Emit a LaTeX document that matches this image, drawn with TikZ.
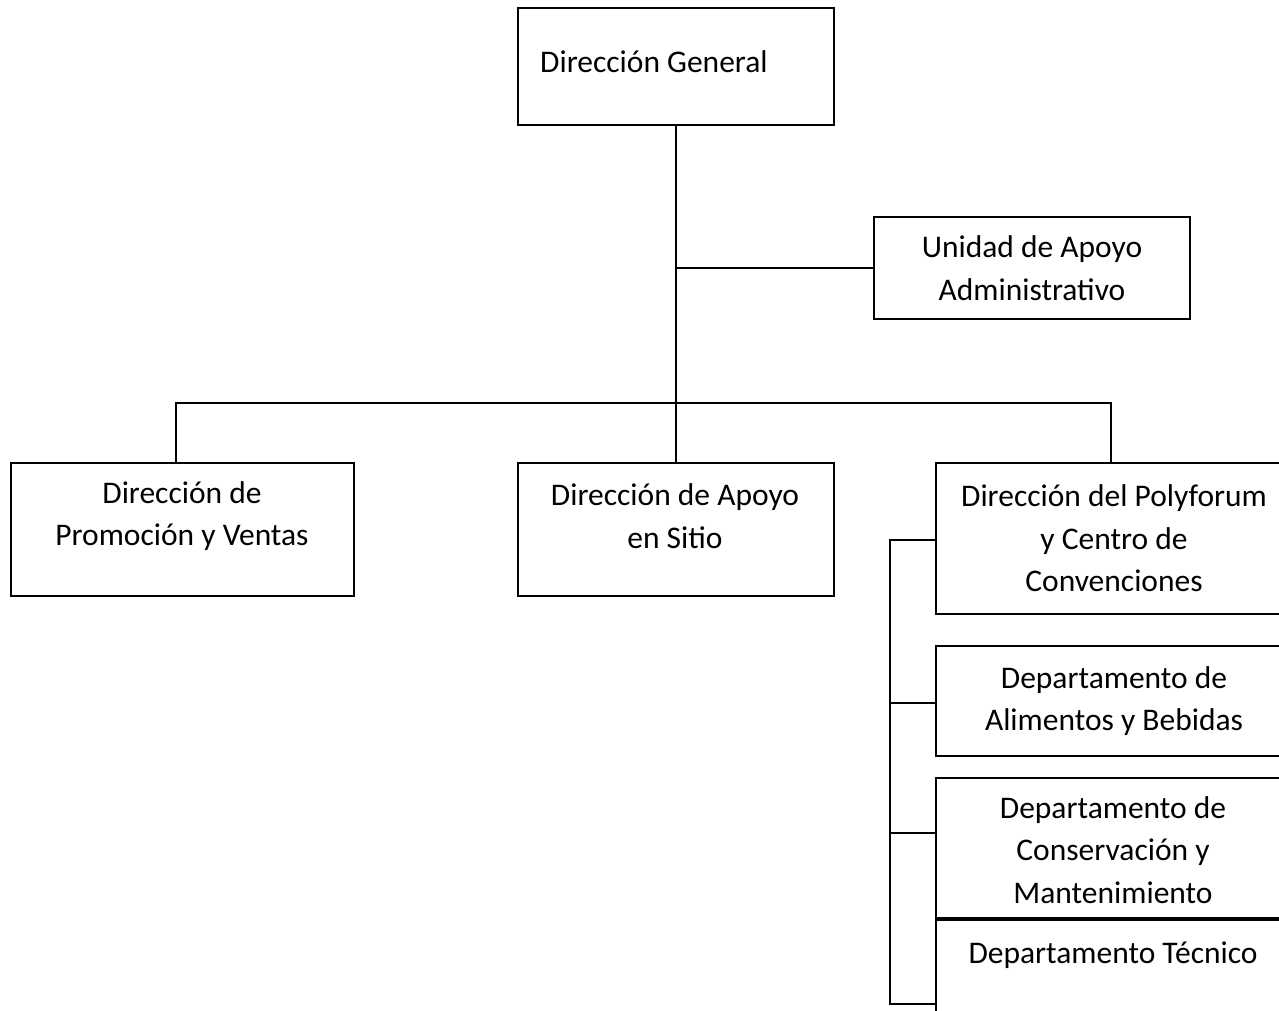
\documentclass[tikz,border=0pt]{standalone}
\usepackage{fontspec}
\setmainfont{Carlito}
\begin{document}
\begin{tikzpicture}[x=1pt,y=-1pt,
  box/.style={draw, line width=2pt, rectangle, anchor=north west, inner sep=0pt, align=center, font=\fontsize{31.5}{42.5}\selectfont},
  txt/.style={inner sep=0pt, align=center, font=\fontsize{31.5}{42.5}\selectfont},
  conn/.style={line width=2pt}]
\useasboundingbox (0,0) rectangle (1279,1011);
\clip (0,0) rectangle (1279,1011);
\node[box, minimum width=316pt, minimum height=117pt] (dg) at (517,7) {};
\node[txt, anchor=west] (dgtext) at (540,61.5) {Dirección General};
\node[box, minimum width=316pt, minimum height=102pt] (uaa) at (873,216) {Unidad de Apoyo\\Administrativo};
\node[box, minimum width=343pt, minimum height=133pt] (dpv) at (10,462) {};
\node[txt] (dpvtext) at (182,516) {Dirección de\\Promoción y Ventas};
\node[box, minimum width=316pt, minimum height=133pt] (das) at (517,462) {};
\node[txt] (dastext) at (675,516) {Dirección de Apoyo\\en Sitio};
\node[box, minimum width=356pt, minimum height=151pt] (dpcc) at (935,462) {Dirección del Polyforum\\y Centro de\\Convenciones};
\node[box, minimum width=356pt, minimum height=110pt] (dab) at (935,645) {Departamento de\\Alimentos y Bebidas};
\node[box, minimum width=356pt, minimum height=140pt] (dcm) at (935,777) {};
\node[txt] (dcmtext) at (1113,850) {Departamento de\\Conservación y\\Mantenimiento};
\node[box, minimum width=356pt, minimum height=130pt] (dt) at (935,917) {};
\node[txt] (dttext) at (1113,955) {Departamento Técnico};
\draw[line width=4pt] (dcm.south west) -- (dcm.south east);
% connectors
\draw[conn] (dg.south) -- (das.north);
\coordinate (uj) at (675,268);
\draw[conn] (uj) -- (uaa.west);
\coordinate (busL) at (176,403);
\coordinate (busR) at (1111,403);
\draw[conn] (busL |- dpv.north) -- (busL) -- (busR) -- (busR |- dpcc.north);
\coordinate (sp) at (890,540);
\coordinate (spb) at (890,1004);
\coordinate (spm) at (890,703);
\coordinate (spc) at (890,833);
\draw[conn] (dpcc.west |- sp) -- (sp) -- (spb) -- (dt.west |- spb);
\draw[conn] (spm) -- (dab.west |- spm);
\draw[conn] (spc) -- (dcm.west |- spc);
\end{tikzpicture}
\end{document}
